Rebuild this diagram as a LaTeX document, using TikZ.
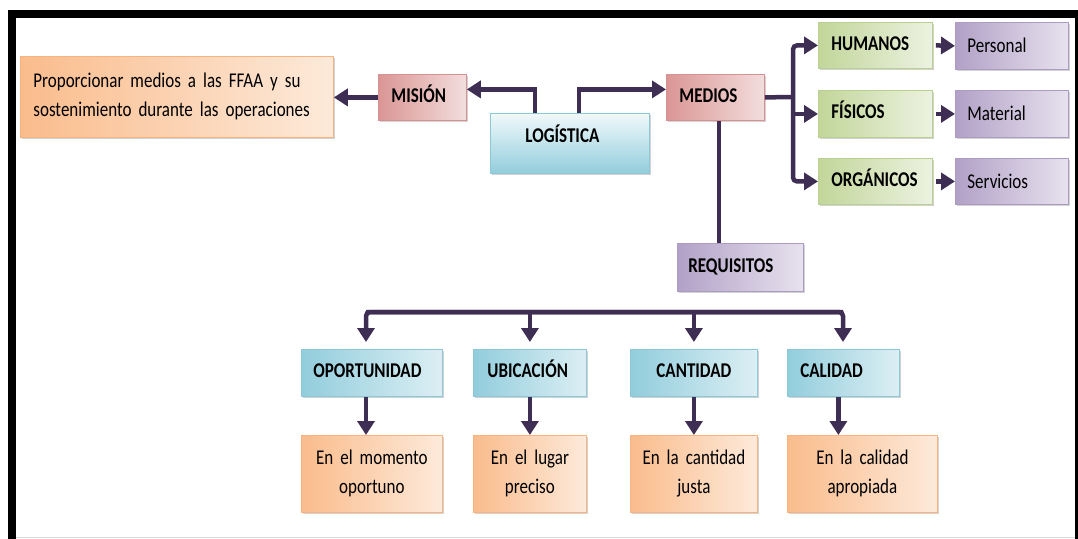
\documentclass[tikz,border=0pt]{standalone}
\usepackage{fontspec}
\setmainfont{Carlito}[FakeStretch=0.81]
\usetikzlibrary{arrows.meta,shadows}
\newcommand\espacio{\fontdimen2\font=3.3pt\fontdimen3\font=0pt\fontdimen4\font=0pt\relax}
\definecolor{flechaC}{RGB}{62,46,84}
\definecolor{naranjaO}{RGB}{250,188,140}
\definecolor{naranjaC}{RGB}{253,234,218}
\definecolor{naranjaB}{RGB}{247,180,128}
\definecolor{rojoO}{RGB}{218,150,148}
\definecolor{rojoC}{RGB}{242,222,221}
\definecolor{rojoB}{RGB}{214,146,146}
\definecolor{azulO}{RGB}{146,205,220}
\definecolor{azulC}{RGB}{220,239,244}
\definecolor{azulB}{RGB}{140,200,216}
\definecolor{verdeO}{RGB}{194,214,154}
\definecolor{verdeC}{RGB}{236,242,224}
\definecolor{verdeB}{RGB}{186,208,144}
\definecolor{moradoO}{RGB}{178,161,199}
\definecolor{moradoC}{RGB}{231,226,238}
\definecolor{moradoB}{RGB}{172,155,194}
\tikzset{
  caja/.style={draw, line width=0.8pt, anchor=north west, inner ysep=0pt, inner xsep=12pt,
    text height=14pt, drop shadow={shadow xshift=2pt,shadow yshift=-2pt,fill=black!35,opacity=.5}},
  titulo/.style={caja, font=\fontsize{21}{28.5}\selectfont\bfseries, text depth=4pt, align=left},
  texto/.style={caja, font=\fontsize{21}{28.5}\selectfont\espacio, align=center},
  naranja/.style={draw=naranjaB, left color=naranjaO, right color=naranjaC},
  rojo/.style={draw=rojoB, left color=rojoO, right color=rojoC},
  azul/.style={draw=azulB, left color=azulO, right color=azulC},
  verde/.style={draw=verdeB, left color=verdeO, right color=verdeC},
  morado/.style={draw=moradoB, left color=moradoO, right color=moradoC},
  linea/.style={line width=4.5pt, draw=flechaC},
  flecha/.style={linea, -{Triangle[width=17pt,length=14pt]}}
}
\begin{document}
\begin{tikzpicture}[x=1pt,y=-1pt]
\useasboundingbox (0,0) rectangle (1078,538);
\draw[line width=8pt] (12,560) |- (1079,14) -- (1079,560);
\draw[black!15, line width=1pt] (16,537) -- (1075,537);

\node[texto, naranja, align=left, inner xsep=13pt, text width=287pt, minimum height=81pt] (fin) at (20,56)
  {Proporcionar medios a las FFAA y su\\sostenimiento durante las operaciones};
\node[titulo, rojo, inner xsep=13pt, text width=62pt, minimum height=46pt] (mision) at (378,74) {MISIÓN};
\node[titulo, draw=azulB, top color=azulC!40, bottom color=azulO, inner xsep=35pt, text width=89pt,
  minimum height=60pt, text depth=16pt] (logistica) at (490,113) {LOGÍSTICA};
\node[titulo, rojo, inner xsep=13pt, text width=72pt, minimum height=46pt] (medios) at (666,74) {MEDIOS};

\node[titulo, verde, inner xsep=13pt, text width=88pt, minimum height=46pt] (humanos) at (818,22) {HUMANOS};
\node[titulo, verde, inner xsep=13pt, text width=88pt, minimum height=47pt] (fisicos) at (818,90) {FÍSICOS};
\node[titulo, verde, inner xsep=13pt, text width=88pt, minimum height=46pt] (organicos) at (818,158) {ORGÁNICOS};
\node[texto, morado, align=left, text width=89pt, minimum height=47pt] (personal) at (955,22) {Personal};
\node[texto, morado, align=left, text width=89pt, minimum height=47pt] (material) at (955,90) {Material};
\node[texto, morado, align=left, text width=89pt, minimum height=46pt] (servicios) at (955,158) {Servicios};

\node[titulo, morado, inner xsep=11pt, text width=104pt, minimum height=48pt] (requisitos) at (677,243) {REQUISITOS};

\node[titulo, azul, text width=117pt, minimum height=47pt] (oportunidad) at (301,349) {OPORTUNIDAD};
\node[titulo, azul, inner xsep=14pt, text width=85pt, minimum height=47pt] (ubicacion) at (473,349) {UBICACIÓN};
\node[titulo, azul, align=center, text width=103pt, minimum height=47pt] (cantidad) at (630,349) {CANTIDAD};
\node[titulo, azul, inner xsep=13pt, text width=86pt, minimum height=47pt] (calidad) at (787,349) {CALIDAD};

\node[texto, naranja, text width=117pt, minimum height=77pt] (eoportunidad) at (301,435) {En el momento\\oportuno};
\node[texto, naranja, text width=89pt, minimum height=77pt] (eubicacion) at (473,435) {En el lugar\\preciso};
\node[texto, naranja, text width=103pt, minimum height=77pt] (ecantidad) at (630,435) {En la cantidad\\justa};
\node[texto, naranja, text width=126pt, minimum height=77pt] (ecalidad) at (787,435) {En la calidad\\apropiada};

\draw[flecha] (mision.west) -- (mision.west -| fin.east);
\draw[flecha] ([xshift=45pt]logistica.north west) |- ([yshift=8pt]mision.east);
\draw[flecha] ([xshift=89pt]logistica.north west) |- ([yshift=8pt]medios.west);

\coordinate (tronco) at (793,97);
\draw[linea] (medios.east) -- (tronco);
\draw[flecha, rounded corners=4pt] (tronco) |- (humanos.west);
\draw[flecha] (tronco) |- (fisicos.west);
\draw[flecha, rounded corners=4pt] (tronco) |- (organicos.west);
\draw[flecha] ([xshift=3pt]humanos.east) -- (personal.west);
\draw[flecha] ([xshift=3pt]fisicos.east) -- (material.west);
\draw[flecha] ([xshift=3pt]organicos.east) -- (servicios.west);

\draw[linea] ([xshift=53pt]medios.south west) -- ([xshift=53pt]medios.south west |- requisitos.north);

\coordinate (busI) at (366,312);
\coordinate (busD) at (843,312);
\draw[flecha, rounded corners=4pt, shorten >=7pt] (busD) -- (busI) -- (busI |- oportunidad.north);
\draw[flecha, rounded corners=4pt, shorten >=7pt] (busI) -- (busD) -- (busD |- calidad.north);
\draw[flecha, shorten >=7pt] (ubicacion.north |- busI) -- (ubicacion.north);
\draw[flecha, shorten >=7pt] (cantidad.north |- busI) -- (cantidad.north);

\draw[flecha] (busI |- oportunidad.south) -- (busI |- eoportunidad.north);
\draw[flecha] (ubicacion.south) -- (eubicacion.north);
\draw[flecha] (cantidad.south) -- (ecantidad.north);
\draw[flecha] ([xshift=-5pt]calidad.south) -- ([xshift=-5pt]calidad.south |- ecalidad.north);
\end{tikzpicture}
\end{document}
